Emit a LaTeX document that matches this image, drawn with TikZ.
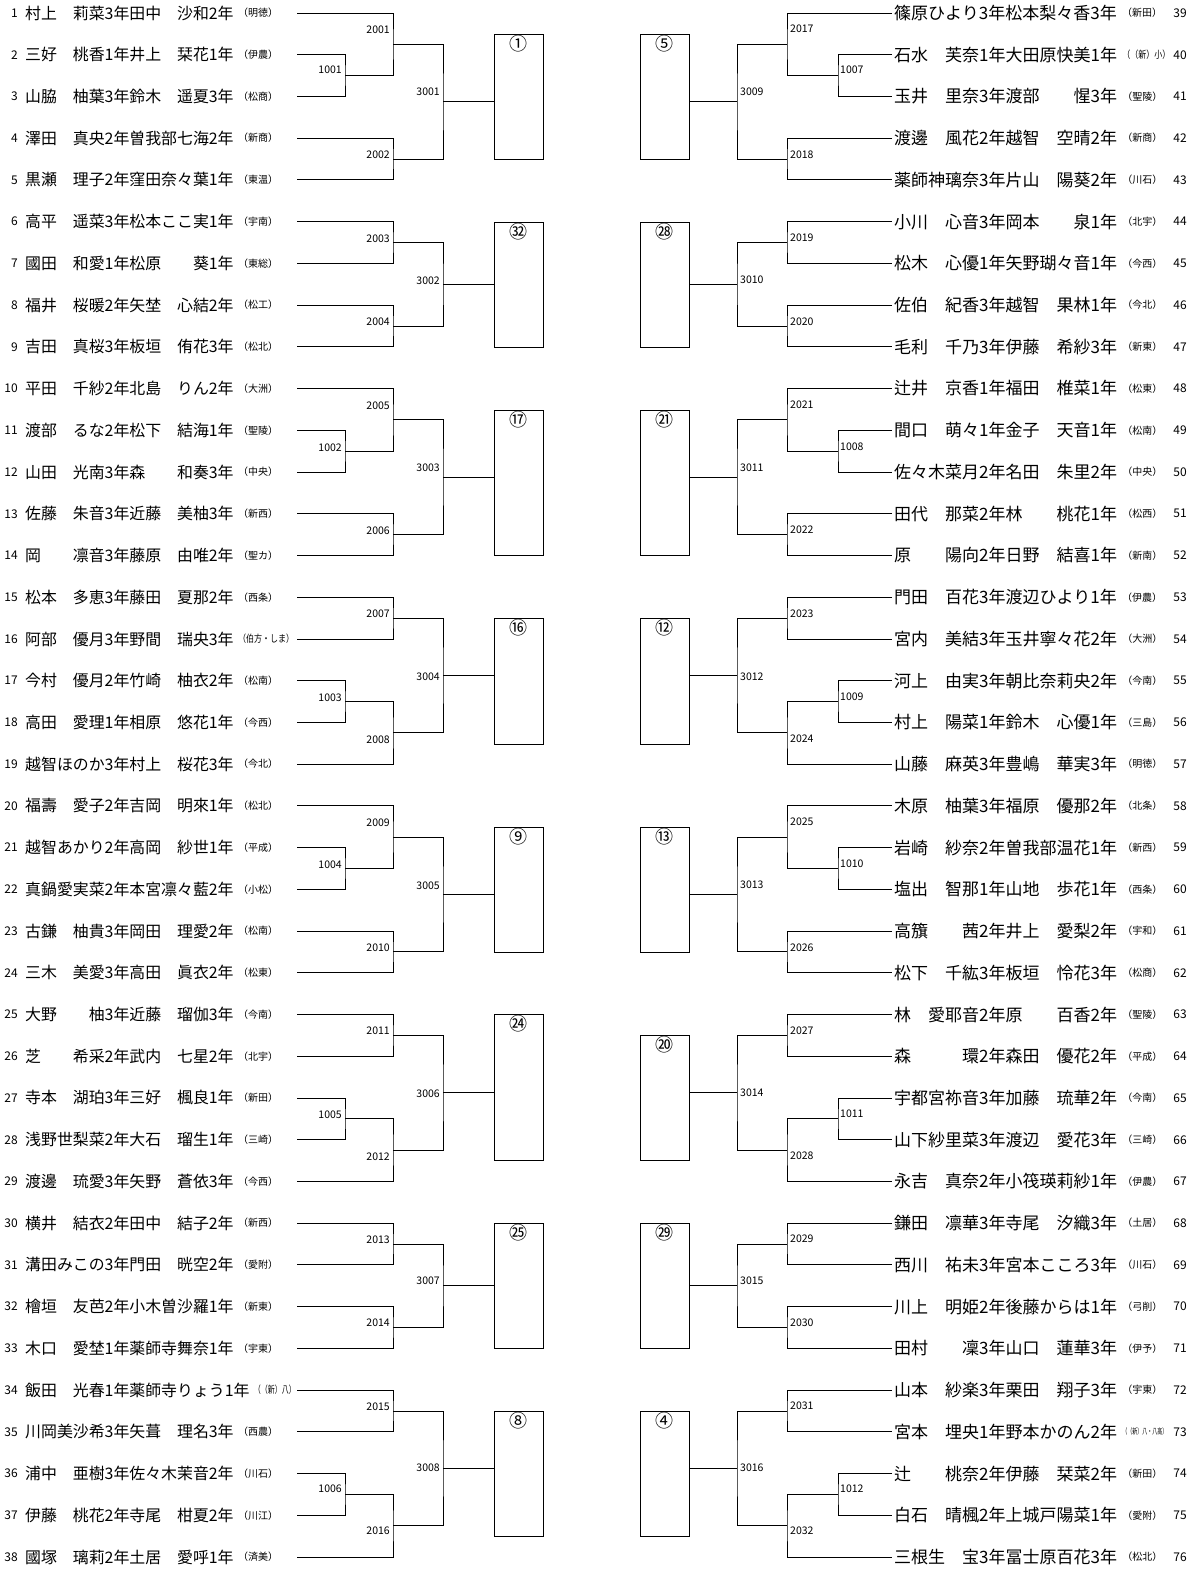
\documentclass[tikz,border=0pt]{standalone}
\usepackage{fontspec}
\setmainfont{Noto Sans CJK JP}
\usepackage{graphicx}
\usetikzlibrary{calc, positioning}

% one bracket: name, x of the vertical, upper input, lower input
\newcommand{\bmatch}[4]{%
  \coordinate (#1c) at ($(#3)!0.5!(#4)$);
  \coordinate (#1) at (#2,0 |- #1c);
  \draw[br] (#3) -| (#1) |- (#4);
}

\begin{document}
\begin{tikzpicture}[
  x=1pt, y=-1pt,
  br/.style={draw=black, line width=0.9pt},
  numL/.style={font=\fontsize{12}{12}\selectfont, anchor=east, inner sep=0pt},
  numR/.style={font=\fontsize{12}{12}\selectfont, inner sep=0pt},
  nameL/.style={font=\fontsize{15.9}{16}\selectfont, anchor=west, inner sep=0pt},
  nameR/.style={font=\fontsize{17}{17}\selectfont, anchor=west, inner sep=0pt},
  school/.style={font=\fontsize{10}{10}\selectfont, inner sep=0pt},
  mlab/.style={font=\fontsize{10.5}{10.5}\selectfont, inner sep=0pt},
  grp/.style={draw=black, line width=0.9pt, minimum width=49pt, inner sep=0pt},
  seed/.style={font=\fontsize{18}{18}\selectfont, inner sep=0pt}
]

\def\dy{41.73}
\def\ytop{13}

\useasboundingbox (0,0) rectangle (1200,1572);

% left entries
\foreach \i/\nm/\sc in {
  1/村上　莉菜3年田中　沙和2年/（明徳）,
  2/三好　桃香1年井上　栞花1年/（伊農）,
  3/山脇　柚葉3年鈴木　遥夏3年/（松商）,
  4/澤田　真央2年曽我部七海2年/（新商）,
  5/黒瀬　理子2年窪田奈々葉1年/（東温）,
  6/高平　遥菜3年松本ここ実1年/（宇南）,
  7/國田　和愛1年松原　　葵1年/（東総）,
  8/福井　桜暖2年矢埜　心結2年/（松工）,
  9/吉田　真桜3年板垣　侑花3年/（松北）,
  10/平田　千紗2年北島　りん2年/（大洲）,
  11/渡部　るな2年松下　結海1年/（聖陵）,
  12/山田　光南3年森　　和奏3年/（中央）,
  13/佐藤　朱音3年近藤　美柚3年/（新西）,
  14/岡　　凛音3年藤原　由唯2年/（聖カ）,
  15/松本　多恵3年藤田　夏那2年/（西条）,
  16/阿部　優月3年野間　瑞央3年/{\scalebox{0.8}[1]{（伯方・しま）}},
  17/今村　優月2年竹崎　柚衣2年/（松南）,
  18/高田　愛理1年相原　悠花1年/（今西）,
  19/越智ほのか3年村上　桜花3年/（今北）,
  20/福壽　愛子2年吉岡　明來1年/（松北）,
  21/越智あかり2年高岡　紗世1年/（平成）,
  22/真鍋愛実菜2年本宮凛々藍2年/（小松）,
  23/古鎌　柚貴3年岡田　理愛2年/（松南）,
  24/三木　美愛3年高田　眞衣2年/（松東）,
  25/大野　　柚3年近藤　瑠伽3年/（今南）,
  26/芝　　希采2年武内　七星2年/（北宇）,
  27/寺本　湖珀3年三好　楓良1年/（新田）,
  28/浅野世梨菜2年大石　瑠生1年/（三崎）,
  29/渡邊　琉愛3年矢野　蒼依3年/（今西）,
  30/横井　結衣2年田中　結子2年/（新西）,
  31/溝田みこの3年門田　晄空2年/（愛附）,
  32/檜垣　友芭2年小木曽沙羅1年/（新東）,
  33/木口　愛埜1年薬師寺舞奈1年/（宇東）,
  34/飯田　光春1年薬師寺りょう1年/{\scalebox{0.7}[1]{（（新）八）}},
  35/川岡美沙希3年矢葺　理名3年/（西農）,
  36/浦中　亜樹3年佐々木茉音2年/（川石）,
  37/伊藤　桃花2年寺尾　柑夏2年/（川江）,
  38/國塚　璃莉2年土居　愛呼1年/（済美）} {
  \node[numL] (nl\i) at (18,{\ytop+(\i-1)*\dy}) {\i};
  \node[nameL] (pl\i) at (25,{\ytop+(\i-1)*\dy}) {\nm};
  \node[school, right=4pt of pl\i] (sl\i) {\sc};
  \coordinate (e\i) at (297,{\ytop+(\i-1)*\dy});
}

% right entries
\foreach \i/\nm/\sc in {
  39/篠原ひより3年松本梨々香3年/（新田）,
  40/石水　芙奈1年大田原快美1年/{\scalebox{0.8}[1]{（（新）小）}},
  41/玉井　里奈3年渡部　　惺3年/（聖陵）,
  42/渡邊　風花2年越智　空晴2年/（新商）,
  43/薬師神璃奈3年片山　陽葵2年/（川石）,
  44/小川　心音3年岡本　　泉1年/（北宇）,
  45/松木　心優1年矢野瑚々音1年/（今西）,
  46/佐伯　紀香3年越智　果林1年/（今北）,
  47/毛利　千乃3年伊藤　希紗3年/（新東）,
  48/辻井　京香1年福田　椎菜1年/（松東）,
  49/間口　萌々1年金子　天音1年/（松南）,
  50/佐々木菜月2年名田　朱里2年/（中央）,
  51/田代　那菜2年林　　桃花1年/（松西）,
  52/原　　陽向2年日野　結喜1年/（新南）,
  53/門田　百花3年渡辺ひより1年/（伊農）,
  54/宮内　美結3年玉井寧々花2年/（大洲）,
  55/河上　由実3年朝比奈莉央2年/（今南）,
  56/村上　陽菜1年鈴木　心優1年/（三島）,
  57/山藤　麻英3年豊嶋　華実3年/（明徳）,
  58/木原　柚葉3年福原　優那2年/（北条）,
  59/岩崎　紗奈2年曽我部温花1年/（新西）,
  60/塩出　智那1年山地　歩花1年/（西条）,
  61/高籏　　茜2年井上　愛梨2年/（宇和）,
  62/松下　千紘3年板垣　怜花3年/（松商）,
  63/林　愛耶音2年原　　百香2年/（聖陵）,
  64/森　　　環2年森田　優花2年\hspace{7pt}/（平成）,
  65/宇都宮祢音3年加藤　琉華2年/（今南）,
  66/山下紗里菜3年渡辺　愛花3年/（三崎）,
  67/永吉　真奈2年小筏瑛莉紗1年/（伊農）,
  68/鎌田　凛華3年寺尾　汐織3年/（土居）,
  69/西川　祐未3年宮本こころ3年/（川石）,
  70/川上　明姫2年後藤からは1年/（弓削）,
  71/田村　　凜3年山口　蓮華3年/（伊予）,
  72/山本　紗楽3年栗田　翔子3年/（宇東）,
  73/宮本　埋央1年野本かのん2年/{\scalebox{0.5}[0.8]{（（新）八・八高）}},
  74/辻　　桃奈2年伊藤　栞菜2年/（新田）,
  75/白石　晴楓2年上城戸陽菜1年/（愛附）,
  76/三根生　宝3年冨士原百花3年/（松北）} {
  \node[nameR] (pr\i) at (894,{\ytop+(\i-39)*\dy}) {\nm};
  \node[school, right=5pt of pr\i] (sr\i) {\sc};
  \node[numR] (nr\i) at (1180,{\ytop+(\i-39)*\dy}) {\i};
  \coordinate (e\i) at (892,{\ytop+(\i-39)*\dy});
}

% left brackets
\bmatch{m1001}{345}{e2}{e3}
\bmatch{m2001}{393}{e1}{m1001}
\bmatch{m2002}{393}{e4}{e5}
\bmatch{m3001}{443}{m2001}{m2002}

\bmatch{m2003}{393}{e6}{e7}
\bmatch{m2004}{393}{e8}{e9}
\bmatch{m3002}{443}{m2003}{m2004}

\bmatch{m1002}{345}{e11}{e12}
\bmatch{m2005}{393}{e10}{m1002}
\bmatch{m2006}{393}{e13}{e14}
\bmatch{m3003}{443}{m2005}{m2006}

\bmatch{m2007}{393}{e15}{e16}
\bmatch{m1003}{345}{e17}{e18}
\bmatch{m2008}{393}{m1003}{e19}
\bmatch{m3004}{443}{m2007}{m2008}

\bmatch{m1004}{345}{e21}{e22}
\bmatch{m2009}{393}{e20}{m1004}
\bmatch{m2010}{393}{e23}{e24}
\bmatch{m3005}{443}{m2009}{m2010}

\bmatch{m2011}{393}{e25}{e26}
\bmatch{m1005}{345}{e27}{e28}
\bmatch{m2012}{393}{m1005}{e29}
\bmatch{m3006}{443}{m2011}{m2012}

\bmatch{m2013}{393}{e30}{e31}
\bmatch{m2014}{393}{e32}{e33}
\bmatch{m3007}{443}{m2013}{m2014}

\bmatch{m2015}{393}{e34}{e35}
\bmatch{m1006}{345}{e36}{e37}
\bmatch{m2016}{393}{m1006}{e38}
\bmatch{m3008}{443}{m2015}{m2016}

% right brackets
\bmatch{m1007}{838}{e40}{e41}
\bmatch{m2017}{787}{e39}{m1007}
\bmatch{m2018}{787}{e42}{e43}
\bmatch{m3009}{737}{m2017}{m2018}

\bmatch{m2019}{787}{e44}{e45}
\bmatch{m2020}{787}{e46}{e47}
\bmatch{m3010}{737}{m2019}{m2020}

\bmatch{m1008}{838}{e49}{e50}
\bmatch{m2021}{787}{e48}{m1008}
\bmatch{m2022}{787}{e51}{e52}
\bmatch{m3011}{737}{m2021}{m2022}

\bmatch{m2023}{787}{e53}{e54}
\bmatch{m1009}{838}{e55}{e56}
\bmatch{m2024}{787}{m1009}{e57}
\bmatch{m3012}{737}{m2023}{m2024}

\bmatch{m1010}{838}{e59}{e60}
\bmatch{m2025}{787}{e58}{m1010}
\bmatch{m2026}{787}{e61}{e62}
\bmatch{m3013}{737}{m2025}{m2026}

\bmatch{m2027}{787}{e63}{e64}
\bmatch{m1011}{838}{e65}{e66}
\bmatch{m2028}{787}{m1011}{e67}
\bmatch{m3014}{737}{m2027}{m2028}

\bmatch{m2029}{787}{e68}{e69}
\bmatch{m2030}{787}{e70}{e71}
\bmatch{m3015}{737}{m2029}{m2030}

\bmatch{m2031}{787}{e72}{e73}
\bmatch{m1012}{838}{e74}{e75}
\bmatch{m2032}{787}{m1012}{e76}
\bmatch{m3016}{737}{m2031}{m2032}

% match numbers
\foreach \lab/\lx/\ly in {1001/342/70, 2001/390/30, 2002/390/155, 3001/440/92,
  2003/390/239, 2004/390/322, 3002/440/281,
  2005/390/406, 1002/342/448, 3003/440/468, 2006/390/531,
  2007/390/614, 3004/440/677, 1003/342/698, 2008/390/740,
  2009/390/823, 1004/342/865, 3005/440/886, 2010/390/948,
  2011/390/1031, 3006/440/1094, 1005/342/1115, 2012/390/1157,
  2013/390/1240, 3007/440/1281, 2014/390/1323,
  2015/390/1407, 3008/440/1468, 1006/342/1489, 2016/390/1531}
  \node[mlab, anchor=east] (l\lab) at (\lx,\ly) {\lab};

\foreach \lab/\lx/\ly in {2017/790/29, 1007/840/70, 3009/740/92, 2018/790/155,
  2019/790/238, 3010/740/280, 2020/790/322,
  2021/790/405, 1008/840/447, 3011/740/468, 2022/790/530,
  2023/790/614, 3012/740/677, 1009/840/697, 2024/790/739,
  2025/790/822, 1010/840/864, 3013/740/885, 2026/790/948,
  2027/790/1031, 3014/740/1093, 1011/840/1114, 2028/790/1156,
  2029/790/1239, 3015/740/1281, 2030/790/1323,
  2031/790/1406, 3016/740/1468, 1012/840/1489, 2032/790/1531}
  \node[mlab, anchor=west] (l\lab) at (\lx,\ly) {\lab};

% block winners
\foreach \k/\top/\bot/\sd/\mm in {1/34/159/①/m3001, 2/222/347/㉜/m3002,
  3/410/555/⑰/m3003, 4/618/744/⑯/m3004, 5/827/952/⑨/m3005,
  6/1014/1160/㉔/m3006, 7/1223/1348/㉕/m3007, 8/1411/1536/⑧/m3008} {
  \node[grp, minimum height={\bot-\top}] (bl\k) at (518.5,{(\top+\bot)/2}) {};
  \node[seed, below=2pt of bl\k.north] (sl\k) {\sd};
  \draw[br] (\mm) -- (\mm -| bl\k.west);
}
\foreach \k/\top/\bot/\sd/\mm in {1/34/159/⑤/m3009, 2/222/347/㉘/m3010,
  3/410/555/㉑/m3011, 4/618/744/⑫/m3012, 5/827/952/⑬/m3013,
  6/1035/1160/⑳/m3014, 7/1223/1348/㉙/m3015, 8/1411/1536/④/m3016} {
  \node[grp, minimum height={\bot-\top}] (br\k) at (664.5,{(\top+\bot)/2}) {};
  \node[seed, below=2pt of br\k.north] (sr\k) {\sd};
  \draw[br] (\mm) -- (\mm -| br\k.east);
}

\end{tikzpicture}
\end{document}
